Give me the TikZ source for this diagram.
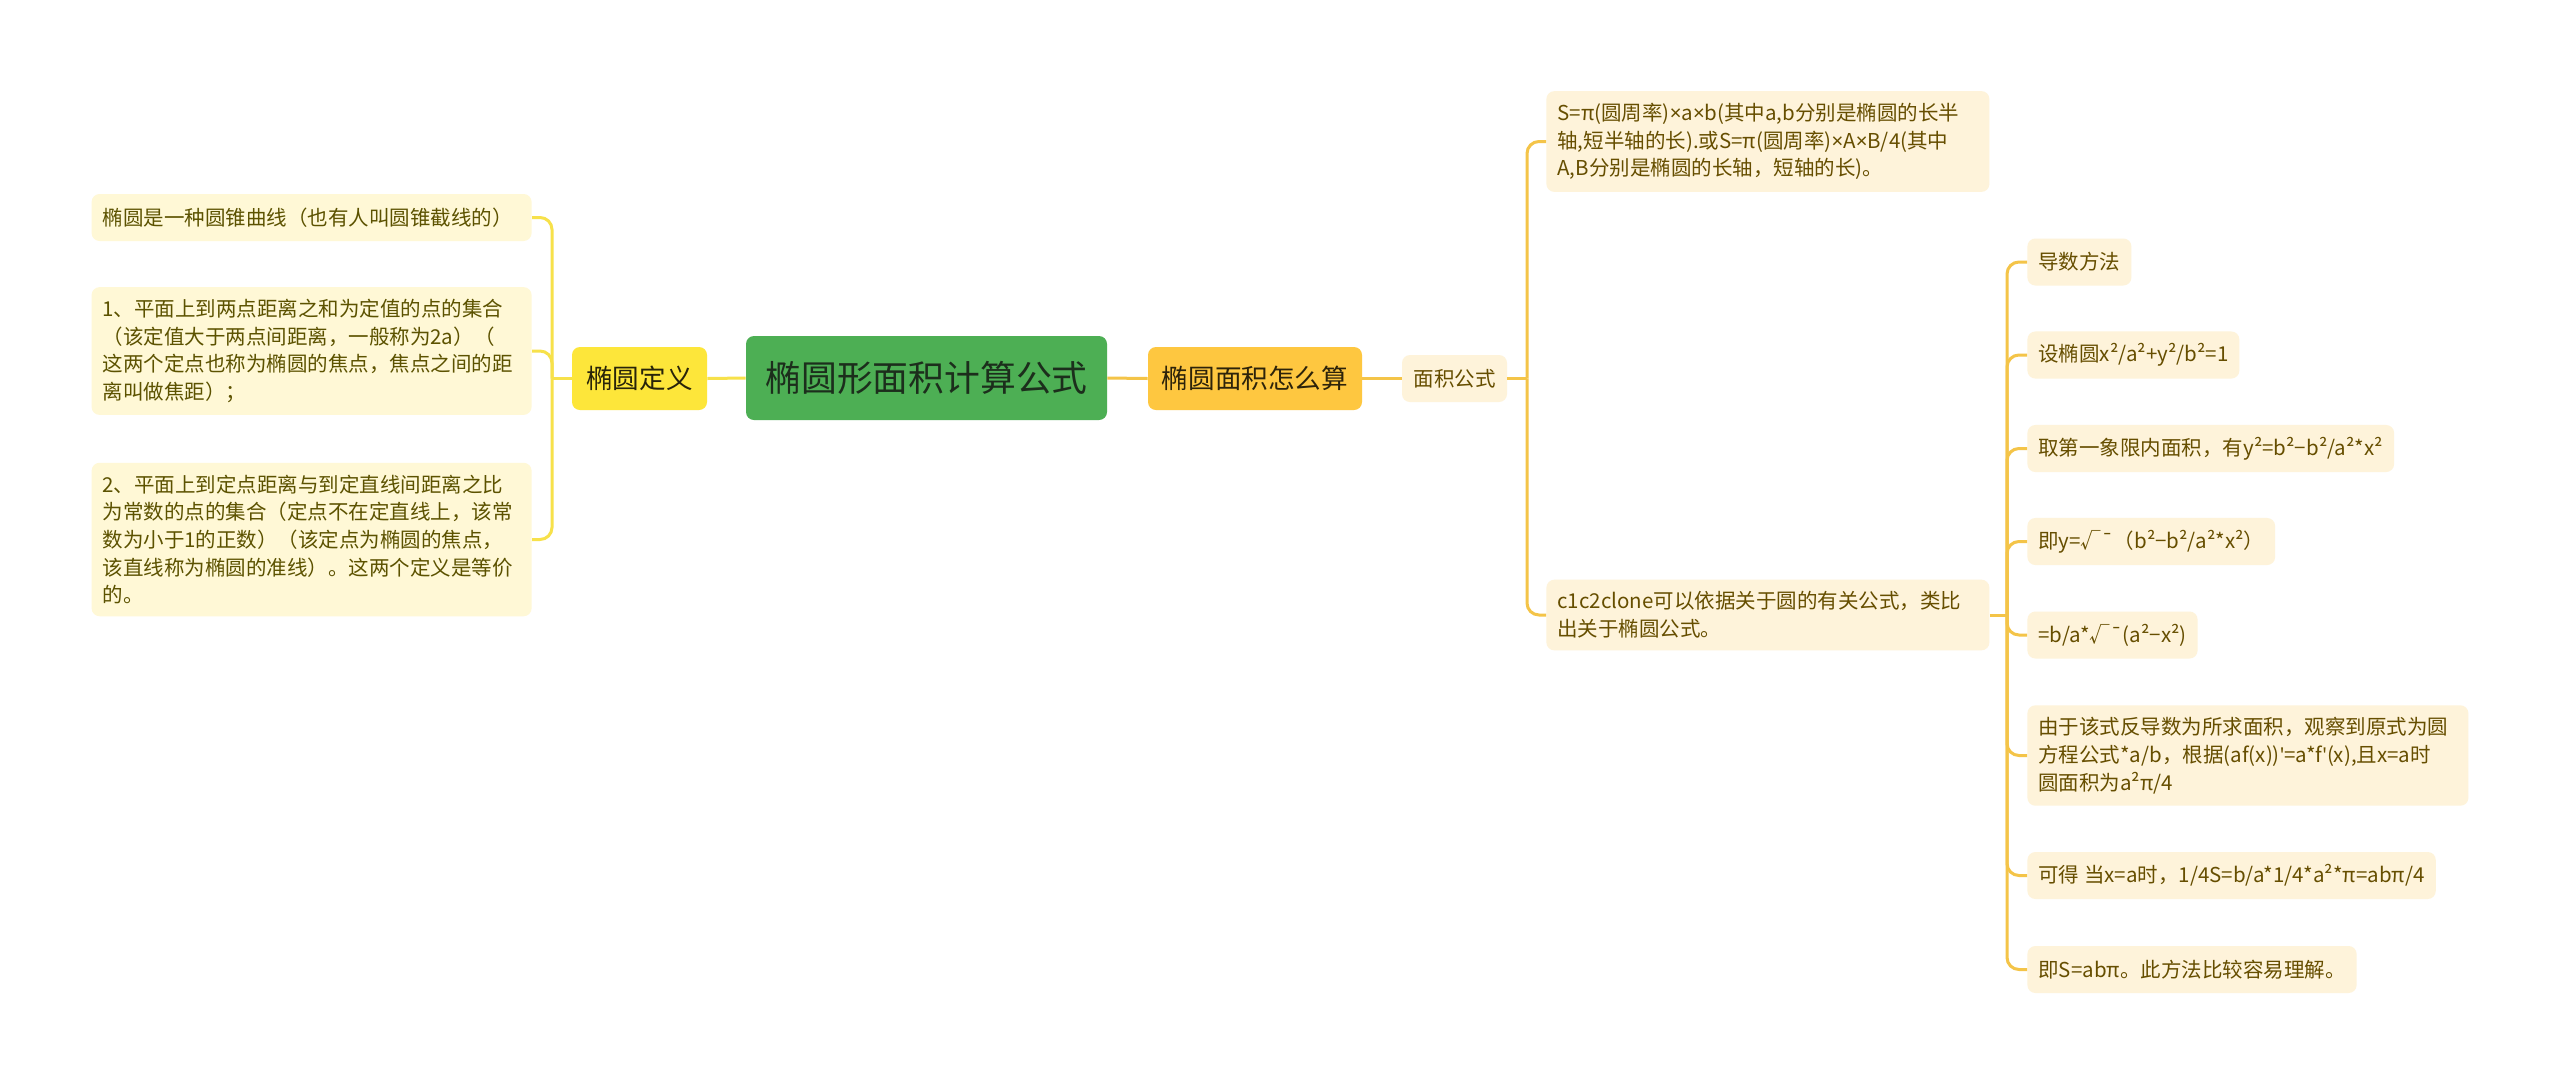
\documentclass[tikz,border=0pt]{standalone}
\usepackage{fontspec}
\setmainfont{Noto Sans CJK SC}
\newfontfamily\narrowfont{Noto Sans}
\newcommand{\tms}{{\narrowfont ×}}
\newcommand{\apos}{{\narrowfont '}}
\usepackage{xcolor}
\usepackage{tikz}
\definecolor{ctrfill}{RGB}{77,175,84}
\definecolor{ctrtext}{RGB}{28,46,28}
\definecolor{dyfill}{RGB}{253,230,58}
\definecolor{dytext}{RGB}{40,36,10}
\definecolor{mjfill}{RGB}{254,199,64}
\definecolor{mjtext}{RGB}{45,35,10}
\definecolor{lleaffill}{RGB}{255,248,214}
\definecolor{lleaftext}{RGB}{92,82,0}
\definecolor{rleaffill}{RGB}{254,243,218}
\definecolor{rleaftext}{RGB}{102,78,0}
\definecolor{lline}{RGB}{247,225,74}
\definecolor{rline}{RGB}{244,196,72}

\begin{document}
\begin{tikzpicture}[x=0.5pt,y=-0.5pt,
  ctr/.style={fill=ctrfill,text=ctrtext,rounded corners=4pt,inner sep=0pt,
    minimum width=180.5pt,minimum height=42pt,font=\fontsize{17.9pt}{20pt}\selectfont},
  sub/.style={rounded corners=4pt,inner sep=0pt,minimum height=31.5pt,
    font=\fontsize{13.3pt}{16pt}\selectfont},
  leaf/.style={rounded corners=4pt,inner xsep=5.5pt,inner ysep=6pt,minimum height=23.5pt,
    align=left,font=\fontsize{10.25pt}{13.85pt}\selectfont},
  lleaf/.style={leaf,fill=lleaffill,text=lleaftext},
  rleaf/.style={leaf,fill=rleaffill,text=rleaftext},
  lconn/.style={draw=lline,line width=1.5pt,rounded corners=6pt},
  rconn/.style={draw=rline,line width=1.5pt,rounded corners=6pt}]
\fill[white] (0,0) rectangle (2560,1083);
\useasboundingbox (0,0) rectangle (2560,1083);

\node[ctr] (ctr) at (926.5,378) {椭圆形面积计算公式};
\node[sub,fill=dyfill,text=dytext,minimum width=67.5pt] (dy) at (639.5,378.5) {椭圆定义};
\node[sub,fill=mjfill,text=mjtext,minimum width=107pt] (mj) at (1255,378.5) {椭圆面积怎么算};
\node[rleaf,minimum width=52.5pt] (mg) at (1454.5,378.5) {面积公式};

\node[lleaf,anchor=east,text width=209pt] (l1) at (532,217.5) {椭圆是一种圆锥曲线（也有人叫圆锥截线的）};
\node[lleaf,anchor=east,text width=209pt] (l2) at (532,351) {1、平面上到两点距离之和为定值的点的集合\\（该定值大于两点间距离，一般称为2a）（\\这两个定点也称为椭圆的焦点，焦点之间的距\\离叫做焦距）；};
\node[lleaf,anchor=east,text width=209pt] (l3) at (532,539.5) {2、平面上到定点距离与到定直线间距离之比\\为常数的点的集合（定点不在定直线上，该常\\数为小于1的正数）（该定点为椭圆的焦点，\\该直线称为椭圆的准线）。这两个定义是等价\\的。};

\node[rleaf,anchor=west,text width=210.5pt] (r1) at (1546,141.5) {S=π(圆周率)\tms a\tms b(其中a,b分别是椭圆的长半\\轴,短半轴的长).或S=π(圆周率)\tms A\tms B/4(其中\\A,B分别是椭圆的长轴，短轴的长)。};
\node[rleaf,anchor=west,text width=210.5pt] (r2) at (1546,615) {c1c2clone可以依据关于圆的有关公式，类比\\出关于椭圆公式。};

\node[rleaf,anchor=west] (d1) at (2027,262) {导数方法};
\node[rleaf,anchor=west] (d2) at (2027,355) {设椭圆x²/a²+y²/b²=1};
\node[rleaf,anchor=west] (d3) at (2027,448.5) {取第一象限内面积，有y²=b²−b²/a²*x²};
\node[rleaf,anchor=west] (d4) at (2027,541.5) {即y=√¯（b²−b²/a²*x²）};
\node[rleaf,anchor=west] (d5) at (2027,635) {=b/a*√¯(a²−x²)};
\node[rleaf,anchor=west,text width=209.5pt] (d6) at (2027,755.5) {由于该式反导数为所求面积，观察到原式为圆\\方程公式*a/b，根据(af(x))\apos=a*f\apos(x),且x=a时\\圆面积为a²π/4};
\node[rleaf,anchor=west] (d7) at (2027,875.5) {可得 当x=a时，1/4S=b/a*1/4*a²*π=abπ/4};
\node[rleaf,anchor=west] (d8) at (2027,969.5) {即S=abπ。此方法比较容易理解。};

\coordinate (jl) at (552,378.5);
\coordinate (jm) at (1527,378.5);
\coordinate (jr) at (2007,615);

\draw[lconn] (ctr.west) -- (dy.east);
\draw[lconn] (dy.west) -- (jl);
\draw[lconn] (jl) |- (l1.east);
\draw[lconn] (jl) |- (l2.east);
\draw[lconn] (jl) |- (l3.east);
\draw[rconn] (ctr.east) -- (mj.west);
\draw[rconn] (mj.east) -- (mg.west);
\draw[rconn] (mg.east) -- (jm);
\draw[rconn] (jm) |- (r1.west);
\draw[rconn] (jm) |- (r2.west);
\draw[rconn] (r2.east) -- (jr);
\draw[rconn] (jr) |- (d1.west);
\draw[rconn] (jr) |- (d2.west);
\draw[rconn] (jr) |- (d3.west);
\draw[rconn] (jr) |- (d4.west);
\draw[rconn] (jr) |- (d5.west);
\draw[rconn] (jr) |- (d6.west);
\draw[rconn] (jr) |- (d7.west);
\draw[rconn] (jr) |- (d8.west);
\end{tikzpicture}
\end{document}
